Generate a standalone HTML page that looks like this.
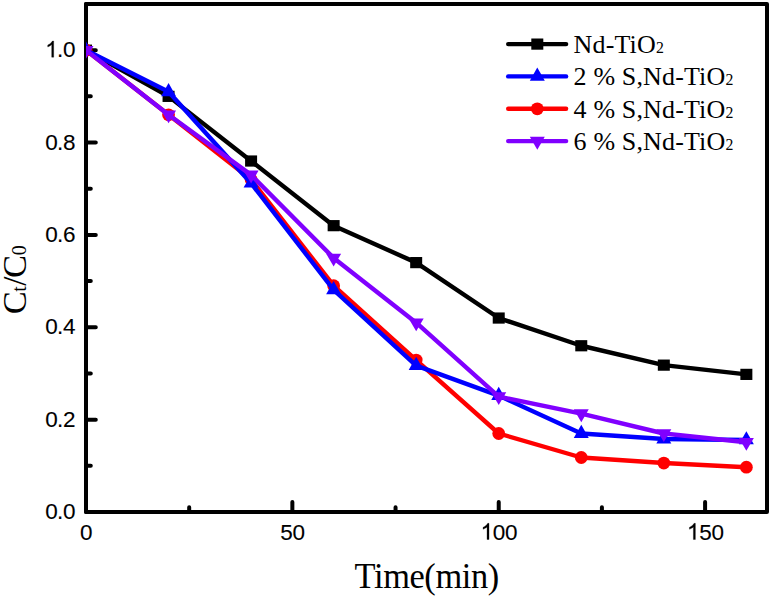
<!DOCTYPE html>
<html><head><meta charset="utf-8"><style>
html,body{margin:0;padding:0;background:#fff;}
svg{display:block;}
.s{font-family:"Liberation Sans",sans-serif;fill:#000;}
.t{stroke:#000;stroke-width:0.1px;}
.r{font-family:"Liberation Serif",serif;fill:#000;}
</style></head><body>
<svg width="772" height="598" viewBox="0 0 772 598">
<rect width="772" height="598" fill="#fff"/>
<path d="M86.00 512 V502 M292.36 512 V502 M498.73 512 V502 M705.09 512 V502 M189.18 512 V507.2 M395.55 512 V507.2 M601.91 512 V507.2 M86 512.00 H95.8 M86 419.64 H95.8 M86 327.27 H95.8 M86 234.91 H95.8 M86 142.55 H95.8 M86 50.18 H95.8 M86 465.82 H90.8 M86 373.45 H90.8 M86 281.09 H90.8 M86 188.73 H90.8 M86 96.36 H90.8 M86 4.00 H90.8" stroke="#000" stroke-width="4" stroke-linecap="round" fill="none"/>
<rect x="86" y="4" width="681" height="508" fill="none" stroke="#000" stroke-width="4" stroke-linejoin="round"/>
<clipPath id="c"><rect x="86" y="4" width="681" height="508"/></clipPath>
<g clip-path="url(#c)">
<polyline points="86.00,50.18 168.55,96.36 251.09,161.02 333.64,225.67 416.18,262.62 498.73,318.04 581.27,345.75 663.82,365.14 746.36,374.38" fill="none" stroke="#000000" stroke-width="4.4" stroke-linejoin="round" stroke-linecap="round"/>
<rect x="80.00" y="44.58" width="12" height="11.2" fill="#000000"/>
<rect x="162.55" y="90.76" width="12" height="11.2" fill="#000000"/>
<rect x="245.09" y="155.42" width="12" height="11.2" fill="#000000"/>
<rect x="327.64" y="220.07" width="12" height="11.2" fill="#000000"/>
<rect x="410.18" y="257.02" width="12" height="11.2" fill="#000000"/>
<rect x="492.73" y="312.44" width="12" height="11.2" fill="#000000"/>
<rect x="575.27" y="340.15" width="12" height="11.2" fill="#000000"/>
<rect x="657.82" y="359.54" width="12" height="11.2" fill="#000000"/>
<rect x="740.36" y="368.78" width="12" height="11.2" fill="#000000"/>
<polyline points="86.00,50.18 168.55,114.84 251.09,179.49 333.64,285.71 416.18,360.06 498.73,433.49 581.27,457.51 663.82,463.05 746.36,467.20" fill="none" stroke="#ff0000" stroke-width="4.4" stroke-linejoin="round" stroke-linecap="round"/>
<circle cx="86.00" cy="50.18" r="6.4" fill="#ff0000"/>
<circle cx="168.55" cy="114.84" r="6.4" fill="#ff0000"/>
<circle cx="251.09" cy="179.49" r="6.4" fill="#ff0000"/>
<circle cx="333.64" cy="285.71" r="6.4" fill="#ff0000"/>
<circle cx="416.18" cy="360.06" r="6.4" fill="#ff0000"/>
<circle cx="498.73" cy="433.49" r="6.4" fill="#ff0000"/>
<circle cx="581.27" cy="457.51" r="6.4" fill="#ff0000"/>
<circle cx="663.82" cy="463.05" r="6.4" fill="#ff0000"/>
<circle cx="746.36" cy="467.20" r="6.4" fill="#ff0000"/>
<polyline points="86.00,50.18 168.55,91.75 251.09,183.19 333.64,289.87 416.18,365.60 498.73,395.62 581.27,433.49 663.82,439.03 746.36,439.96" fill="none" stroke="#0000ff" stroke-width="4.4" stroke-linejoin="round" stroke-linecap="round"/>
<path d="M86.00 41.38 L93.50 54.58 L78.50 54.58Z" fill="#0000ff"/>
<path d="M168.55 82.95 L176.05 96.15 L161.05 96.15Z" fill="#0000ff"/>
<path d="M251.09 174.39 L258.59 187.59 L243.59 187.59Z" fill="#0000ff"/>
<path d="M333.64 281.07 L341.14 294.27 L326.14 294.27Z" fill="#0000ff"/>
<path d="M416.18 356.80 L423.68 370.00 L408.68 370.00Z" fill="#0000ff"/>
<path d="M498.73 386.82 L506.23 400.02 L491.23 400.02Z" fill="#0000ff"/>
<path d="M581.27 424.69 L588.77 437.89 L573.77 437.89Z" fill="#0000ff"/>
<path d="M663.82 430.23 L671.32 443.43 L656.32 443.43Z" fill="#0000ff"/>
<path d="M746.36 431.16 L753.86 444.36 L738.86 444.36Z" fill="#0000ff"/>
<polyline points="86.00,50.18 168.55,114.84 251.09,174.87 333.64,258.00 416.18,322.65 498.73,396.55 581.27,413.63 663.82,433.49 746.36,442.27" fill="none" stroke="#8000ff" stroke-width="4.4" stroke-linejoin="round" stroke-linecap="round"/>
<path d="M86.00 58.72 L93.50 45.92 L78.50 45.92Z" fill="#8000ff"/>
<path d="M168.55 123.37 L176.05 110.57 L161.05 110.57Z" fill="#8000ff"/>
<path d="M251.09 183.41 L258.59 170.61 L243.59 170.61Z" fill="#8000ff"/>
<path d="M333.64 266.53 L341.14 253.73 L326.14 253.73Z" fill="#8000ff"/>
<path d="M416.18 331.19 L423.68 318.39 L408.68 318.39Z" fill="#8000ff"/>
<path d="M498.73 405.08 L506.23 392.28 L491.23 392.28Z" fill="#8000ff"/>
<path d="M581.27 422.17 L588.77 409.37 L573.77 409.37Z" fill="#8000ff"/>
<path d="M663.82 442.02 L671.32 429.22 L656.32 429.22Z" fill="#8000ff"/>
<path d="M746.36 450.80 L753.86 438.00 L738.86 438.00Z" fill="#8000ff"/>
</g>
<text transform="translate(0,519.00)" x="45.30 57.00 63.00" y="0" class="s t" font-size="22.5">0.0</text>
<text transform="translate(0,426.64)" x="45.30 57.00 63.00" y="0" class="s t" font-size="22.5">0.2</text>
<text transform="translate(0,334.27)" x="45.30 57.00 63.00" y="0" class="s t" font-size="22.5">0.4</text>
<text transform="translate(0,241.91)" x="45.30 57.00 63.00" y="0" class="s t" font-size="22.5">0.6</text>
<text transform="translate(0,149.55)" x="45.30 57.00 63.00" y="0" class="s t" font-size="22.5">0.8</text>
<path d="M763 0H583V1147Q518 1085 412.5 1023Q307 961 223 930V1104Q374 1175 487 1276Q600 1377 647 1472H763Z" transform="translate(45.30,57.18) scale(0.010986,-0.010986)" fill="#000" stroke="#000" stroke-width="27.3"/>
<text transform="translate(0,57.18)" x="57.00 63.00" y="0" class="s t" font-size="22.5">.0</text>
<text transform="translate(0,539.50)" x="80.10" y="0" class="s t" font-size="22.5">0</text>
<text transform="translate(0,539.50)" x="280.36 292.56" y="0" class="s t" font-size="22.5">50</text>
<path d="M763 0H583V1147Q518 1085 412.5 1023Q307 961 223 930V1104Q374 1175 487 1276Q600 1377 647 1472H763Z" transform="translate(480.63,539.50) scale(0.010986,-0.010986)" fill="#000" stroke="#000" stroke-width="27.3"/>
<text transform="translate(0,539.50)" x="492.83 505.03" y="0" class="s t" font-size="22.5">00</text>
<path d="M763 0H583V1147Q518 1085 412.5 1023Q307 961 223 930V1104Q374 1175 487 1276Q600 1377 647 1472H763Z" transform="translate(686.99,539.50) scale(0.010986,-0.010986)" fill="#000" stroke="#000" stroke-width="27.3"/>
<text transform="translate(0,539.50)" x="699.19 711.39" y="0" class="s t" font-size="22.5">50</text>
<text transform="translate(354.6,588) scale(1,1.04)" x="0" y="0" class="r" font-size="34.4" letter-spacing="-0.4">Time(min)</text>
<g transform="translate(25.7,313) rotate(-90)"><text x="-1.16" y="0" class="r" font-size="34.5">C</text><text x="21.18" y="0" class="r" font-size="20">t</text><text x="27.3" y="0" class="r" font-size="33">/</text><text x="35.14" y="0" class="r" font-size="34.5">C</text><text x="57.85" y="0" class="r" font-size="20">0</text></g>
<path d="M508.2 44.1 H566.1" stroke="#000000" stroke-width="4.4" stroke-linecap="round"/>
<rect x="531.30" y="38.50" width="12" height="11.2" fill="#000000"/>
<text x="573.6" y="53.0" class="r" font-size="26" letter-spacing="0.15">Nd-TiO<tspan font-size="15.8">2</tspan></text>
<path d="M508.2 76.4 H566.1" stroke="#0000ff" stroke-width="4.4" stroke-linecap="round"/>
<path d="M537.30 67.60 L544.80 80.80 L529.80 80.80Z" fill="#0000ff"/>
<text x="573.6" y="85.3" class="r" font-size="26" letter-spacing="0.15">2 % S,Nd-TiO<tspan font-size="15.8">2</tspan></text>
<path d="M508.2 108.8 H566.1" stroke="#ff0000" stroke-width="4.4" stroke-linecap="round"/>
<circle cx="537.30" cy="108.80" r="6.4" fill="#ff0000"/>
<text x="573.6" y="117.7" class="r" font-size="26" letter-spacing="0.15">4 % S,Nd-TiO<tspan font-size="15.8">2</tspan></text>
<path d="M508.2 141.1 H566.1" stroke="#8000ff" stroke-width="4.4" stroke-linecap="round"/>
<path d="M537.30 149.63 L544.80 136.83 L529.80 136.83Z" fill="#8000ff"/>
<text x="573.6" y="150.0" class="r" font-size="26" letter-spacing="0.15">6 % S,Nd-TiO<tspan font-size="15.8">2</tspan></text>
</svg>
</body></html>
